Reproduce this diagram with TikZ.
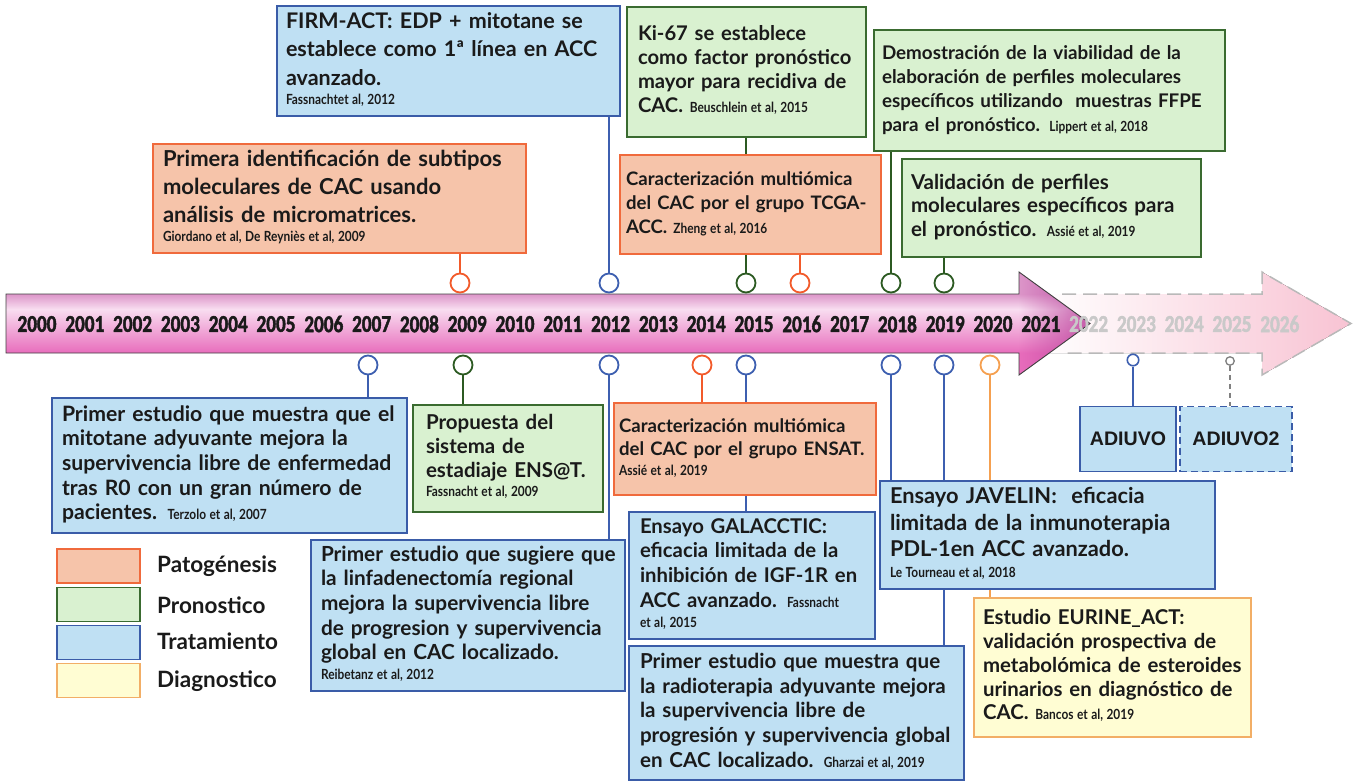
\documentclass[tikz,border=0pt]{standalone}
\usepackage{fontspec}
\setmainfont{Lato}
\newfontfamily\citef{Lato}[FakeStretch=0.85]
\newfontfamily\yearf{Carlito}[FakeStretch=0.8, FakeBold=1.8]
\newfontfamily\arialf{Liberation Sans}
\usetikzlibrary{fadings,backgrounds}
\definecolor{bfill}{HTML}{BFE0F3}
\definecolor{bdraw}{HTML}{3A5CA8}
\definecolor{ofill}{HTML}{F6C4AA}
\definecolor{odraw}{HTML}{F06A3C}
\definecolor{gfill}{HTML}{D9F1D0}
\definecolor{gdraw}{HTML}{3A6B30}
\definecolor{yfill}{HTML}{FFFDD3}
\definecolor{ydraw}{HTML}{F2AE66}
\definecolor{bstem}{HTML}{3D5FB0}
\definecolor{ostem}{HTML}{F25A2A}
\definecolor{gstem}{HTML}{2C5A22}
\definecolor{ystem}{HTML}{F5A050}
\definecolor{ptop}{HTML}{DC95C9}
\definecolor{plight}{HTML}{F8DDF0}
\definecolor{pbot}{HTML}{E86DBC}
\definecolor{ptip}{HTML}{B8409A}
\definecolor{pfade}{HTML}{F8C3D3}
\definecolor{yeargray}{HTML}{C9C9C9}
\definecolor{txt}{HTML}{1A1A1A}
\pgfdeclareverticalshading{arrowshade}{100bp}{color(0bp)=(pbot); color(35.7bp)=(pbot); color(57bp)=(plight); color(64.3bp)=(ptop); color(100bp)=(ptop)}
\tikzfading[name=fadeleft, left color=transparent!100, right color=transparent!0]
\newcommand\cit[1]{{\citef\fontsize{14}{15}\selectfont\spaceskip=0.25em\relax #1}}
% name, style, pad, x1, y1, x2, y2, content
\newcommand\evbox[8]{%
  \pgfmathsetmacro\bw{#6-#4}\pgfmathsetmacro\bh{#7-#5}\pgfmathsetmacro\tw{#6-#4-2*#3}%
  \node[#2, inner xsep=#3pt, minimum width=\bw pt, minimum height=\bh pt, text width=\tw pt] (#1) at ({(#4+#6)/2},{(#5+#7)/2}) {\begin{tabular}{@{}l@{}}#8\end{tabular}};}
\begin{document}
\begin{tikzpicture}[x=1pt,y=-1pt,
  evb/.style={draw, line width=1.8pt, inner ysep=2pt, align=left, anchor=center, text=txt},
  blueb/.style={evb, draw=bdraw, fill=bfill},
  orangeb/.style={evb, draw=odraw, fill=ofill},
  greenb/.style={evb, draw=gdraw, fill=gfill},
  yellowb/.style={evb, draw=ydraw, fill=yfill},
  fs/.style 2 args={font=\bfseries\fontsize{#1}{#2}\selectfont},
  mk/.style={circle, draw, fill=white, line width=1.8pt, minimum size=19pt, inner sep=0pt},
  smk/.style={circle, draw, fill=white, line width=1.6pt, minimum size=11.5pt, inner sep=0pt},
  stemline/.style={line width=1.8pt},
  yr/.style={font=\yearf\bfseries\fontsize{24}{24}\selectfont, text=txt, inner sep=0pt},
  fyr/.style={yr, text=yeargray},
  leg/.style={draw, line width=1.8pt, minimum width=83pt, minimum height=34pt},
  legt/.style={anchor=west, font=\bfseries\fontsize{22.5}{24}\selectfont, inner sep=0pt, text=txt},
  adv/.style={blueb, align=center, minimum height=65pt, inner sep=0pt, font=\arialf\bfseries\fontsize{19.6}{22}\selectfont}
]
\useasboundingbox (0,0) rectangle (1357,782);
% faded future arrow
\fill[left color=white, right color=pfade] (1040,294) -- (1262,294) -- (1262,272) -- (1351,323.5) -- (1262,375) -- (1262,353) -- (1040,353) -- cycle;
\draw[gray!55, line width=1.5pt, dash pattern=on 14pt off 7pt] (1062,294) -- (1262,294) -- (1262,272) -- (1351,323.5) -- (1262,375) -- (1262,353) -- (1062,353);
% main arrow
\path[shading=arrowshade] (6,294) -- (1019,294) -- (1019,272) -- (1090,323.5) -- (1019,375) -- (1019,353) -- (6,353) -- cycle;
\fill[ptip, path fading=fadeleft, fill opacity=0.8] (1019,272) -- (1090,323.5) -- (1019,375) -- cycle;
\draw[black!75, line width=0.9pt] (6,294) -- (1019,294) -- (1019,272) -- (1090,323.5) -- (1019,375) -- (1019,353) -- (6,353) -- cycle;
% years
\foreach \i [evaluate=\i as \yy using int(2000+\i)] in {0,...,21}
  \node[yr] (y\i) at ({37+47.8*\i},324) {\yy};
\foreach \i [evaluate=\i as \yy using int(2000+\i)] in {22,...,26}
  \node[fyr] (y\i) at ({37+47.8*\i},324) {\yy};

% top boxes
\evbox{firm}{blueb, fs={21.5}{28.5}}{9}{277}{6}{620}{116}{FIRM-ACT: EDP + mitotane se\\establece como 1ª línea en ACC\\avanzado.\\[-9pt]\cit{Fassnachtet al, 2012}}
\evbox{prim}{orangeb, fs={22}{28}}{10}{153}{144}{526}{253}{Primera identificación de subtipos\\moleculares de CAC usando\\análisis de micromatrices.\\[-9pt]\cit{Giordano et al, De Reyniès et al, 2009}}
\evbox{ki}{greenb, fs={20.2}{24}}{11}{627}{7}{866}{137}{Ki-67 se establece\\como factor pronóstico\\mayor para recidiva de\\CAC. \cit{Beuschlein et al, 2015}}
\evbox{tcga}{orangeb, fs={18.6}{24}}{6}{620}{155}{881}{254}{Caracterización multiómica\\del CAC por el grupo TCGA-\\ACC. \cit{Zheng et al, 2016}}
\evbox{demo}{greenb, fs={18.8}{24}}{8}{874}{30}{1225}{151}{Demostración de la viabilidad de la\\elaboración de perfiles moleculares\\específicos utilizando\ \ muestras FFPE\\para el pronóstico. \cit{Lippert et al, 2018}}
\evbox{valid}{greenb, fs={20.5}{23.5}}{9}{902}{159}{1201}{257}{Validación de perfiles\\moleculares específicos para\\el pronóstico. \cit{Assié et al, 2019}}
% bottom boxes
\evbox{mito}{blueb, fs={21.2}{24.7}}{10}{52}{398}{407}{533}{Primer estudio que muestra que el\\mitotane adyuvante mejora la\\supervivencia libre de enfermedad\\tras R0 con un gran número de\\pacientes. \cit{Terzolo et al, 2007}}
\evbox{prop}{greenb, fs={20.5}{24}}{13}{413}{405}{603}{512}{Propuesta del\\sistema de\\estadiaje ENS@T.\\[-5pt]\cit{Fassnacht et al, 2009}}
\evbox{sug}{blueb, fs={20.8}{24.7}}{10}{311}{540}{625}{691}{Primer estudio que sugiere que\\la linfadenectomía regional\\mejora la supervivencia libre\\de progresion y supervivencia\\global en CAC localizado.\\[-5pt]\cit{Reibetanz et al, 2012}}
\evbox{ensat}{orangeb, fs={18.6}{23}}{5}{614}{403}{876}{495}{Caracterización multiómica\\del CAC por el grupo ENSAT.\\[-3pt]\cit{Assié et al, 2019}}
\evbox{gal}{blueb, fs={20.3}{24.7}}{11}{629}{512}{875}{639}{Ensayo GALACCTIC:\\eficacia limitada de la\\inhibición de IGF-1R en\\ACC avanzado. \cit{Fassnacht}\\[-4pt]\cit{et al, 2015}}
\evbox{jav}{blueb, fs={21.8}{26.5}}{10}{880}{481}{1215}{589}{Ensayo JAVELIN:\ \ eficacia\\limitada de la inmunoterapia\\PDL-1en ACC avanzado.\\[-6pt]\cit{Le Tourneau et al, 2018}}
\evbox{radio}{blueb, fs={20.6}{24.6}}{11}{629}{646}{964}{780}{Primer estudio que muestra que\\la radioterapia adyuvante mejora\\la supervivencia libre de\\progresión y supervivencia global\\en CAC localizado. \cit{Gharzai et al, 2019}}
\evbox{eur}{yellowb, fs={20.4}{23.8}}{9}{974}{598}{1251}{737}{Estudio EURINE\_ACT:\\validación prospectiva de\\metabolómica de esteroides\\urinarios en diagnóstico de\\CAC. \cit{Bancos et al, 2019}}
\node[adv, minimum width=96pt] (adv) at (1128,439) {ADIUVO};
\node[adv, dashed, dash pattern=on 7pt off 4pt, minimum width=112pt] (adv2) at (1236,439) {ADIUVO2};

% markers
\node[mk, draw=ostem] (ct09) at (460,283) {};
\node[mk, draw=bstem] (ct12) at (609,283) {};
\node[mk, draw=gstem] (ct15) at (746,283) {};
\node[mk, draw=ostem] (ct16) at (800,283) {};
\node[mk, draw=gstem] (ct18) at (891,283) {};
\node[mk, draw=gstem] (ct19) at (944,283) {};
\node[mk, draw=bstem] (cb07) at (368,365) {};
\node[mk, draw=gstem] (cb09) at (463,365) {};
\node[mk, draw=bstem] (cb12) at (609,365) {};
\node[mk, draw=ostem] (cb14) at (702,365) {};
\node[mk, draw=bstem] (cb15) at (746,365) {};
\node[mk, draw=bstem] (cb18) at (891,365) {};
\node[mk, draw=bstem] (cb19) at (944,365) {};
\node[mk, draw=ystem] (cb20) at (990,365) {};
\node[smk, draw=bstem] (cb23) at (1133,360) {};
\node[smk, draw=gray, minimum size=8.5pt, line width=1.3pt] (cb25) at (1230,361) {};

\begin{pgfonlayer}{background}
\draw[stemline, ostem] (ct09.north) -- (ct09.north |- prim.south);
\draw[stemline, bstem] (ct12.north) -- (ct12.north |- firm.south);
\draw[stemline, gstem] (ct15.north) -- (ct15.north |- ki.south);
\draw[stemline, ostem] (ct16.north) -- (ct16.north |- tcga.south);
\draw[stemline, gstem] (ct18.north) -- (ct18.north |- demo.south);
\draw[stemline, gstem] (ct19.north) -- (ct19.north |- valid.south);
\draw[stemline, bstem] (cb07.south) -- (cb07.south |- mito.north);
\draw[stemline, gstem] (cb09.south) -- (cb09.south |- prop.north);
\draw[stemline, bstem] (cb12.south) -- (cb12.south |- sug.north);
\draw[stemline, ostem] (cb14.south) -- (cb14.south |- ensat.north);
\draw[stemline, bstem] (cb15.south) -- (cb15.south |- gal.north);
\draw[stemline, bstem] (cb18.south) -- (cb18.south |- jav.north);
\draw[stemline, bstem] (cb19.south) -- (cb19.south |- radio.north);
\draw[stemline, ystem] (cb20.south) -- (cb20.south |- eur.north);
\draw[stemline, bstem] (cb23.south) -- (cb23.south |- adv.north);
\draw[line width=1.5pt, gray, dash pattern=on 5pt off 4pt] (cb25.south) -- (cb25.south |- adv2.north);
\end{pgfonlayer}

% legend
\node[leg, draw=odraw, fill=ofill] (lg1) at (98.5,566) {};
\node[leg, draw=gdraw, fill=gfill] (lg2) at (98.5,604.5) {};
\node[leg, draw=bdraw, fill=bfill] (lg3) at (98.5,642.5) {};
\node[leg, draw=ydraw, fill=yfill] (lg4) at (98.5,680.5) {};
\node[legt] (lt1) at (157,566) {Patogénesis};
\node[legt] (lt2) at (157,605) {Pronostico};
\node[legt] (lt3) at (157,641) {Tratamiento};
\node[legt] (lt4) at (157,681) {Diagnostico};
\end{tikzpicture}
\end{document}
